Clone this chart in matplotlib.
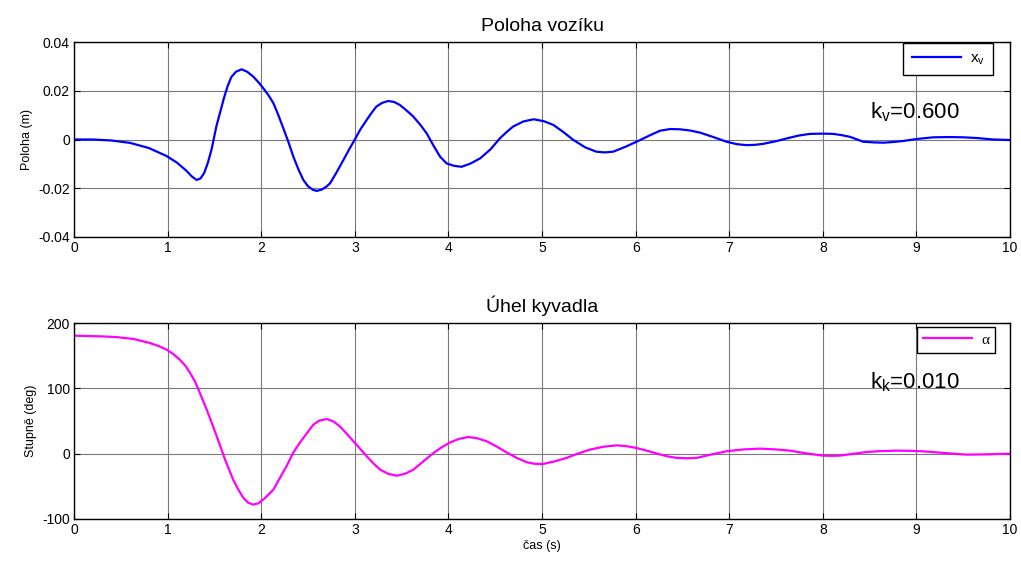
import numpy as np
import matplotlib.pyplot as plt

plt.rcParams['font.family'] = ['Liberation Sans', 'DejaVu Sans']
plt.rcParams['mathtext.fontset'] = 'custom'
plt.rcParams['mathtext.rm'] = 'Liberation Sans'
plt.rcParams['mathtext.it'] = 'Liberation Sans:italic'
plt.rcParams['axes.unicode_minus'] = False

# ── Simulation output: cart position ──────────────────────────────────────────
t_x = [0.0, 0.2, 0.4, 0.6, 0.8, 0.99, 1.1, 1.2, 1.26, 1.31, 1.35, 1.39, 1.43,
       1.47, 1.52, 1.56, 1.6, 1.64, 1.68, 1.73, 1.79, 1.85, 1.915, 1.97, 2.023,
       2.08, 2.13, 2.18, 2.236, 2.29, 2.343, 2.4, 2.45, 2.5, 2.55, 2.593, 2.65,
       2.7, 2.735, 2.8, 2.878, 2.94, 3.0, 3.06, 3.126, 3.18, 3.23, 3.29, 3.356,
       3.42, 3.48, 3.55, 3.625, 3.7, 3.768, 3.84, 3.91, 3.98, 4.06, 4.14, 4.24,
       4.34, 4.45, 4.55, 4.62, 4.69, 4.8, 4.91, 5.02, 5.12, 5.23, 5.335, 5.46,
       5.58, 5.67, 5.76, 5.89, 6.01, 6.14, 6.26, 6.37, 6.47, 6.58, 6.69, 6.83,
       6.97, 7.08, 7.18, 7.27, 7.36, 7.5, 7.62, 7.74, 7.86, 8.0, 8.11, 8.2,
       8.29, 8.43, 8.55, 8.65, 8.76, 8.86, 9.0, 9.18, 9.35, 9.5, 9.65, 9.82,
       10.0]
x_v = [0.0, 0.0, -0.0004, -0.0014, -0.0035, -0.0068, -0.0095, -0.0128, -0.0152,
       -0.0166, -0.016, -0.0138, -0.0095, -0.004, 0.0053, 0.011, 0.0168, 0.0218,
       0.0256, 0.0278, 0.0288, 0.0278, 0.0258, 0.0235, 0.021, 0.018, 0.0149,
       0.0103, 0.0046, -0.001, -0.007, -0.0125, -0.0166, -0.0192, -0.0206,
       -0.0211, -0.0205, -0.0192, -0.018, -0.0138, -0.0084, -0.004, 0.0, 0.0042,
       0.008, 0.011, 0.0135, 0.015, 0.0158, 0.0154, 0.0142, 0.012, 0.0094, 0.006,
       0.0025, -0.0025, -0.007, -0.0098, -0.0108, -0.0112, -0.0098, -0.0077,
       -0.004, 0.0005, 0.003, 0.0053, 0.0074, 0.0083, 0.0075, 0.006, 0.003,
       -0.0002, -0.0032, -0.005, -0.0053, -0.005, -0.003, -0.0009, 0.0015,
       0.0036, 0.0043, 0.0042, 0.0037, 0.0028, 0.001, -0.0009, -0.0019, -0.0023,
       -0.0022, -0.0018, -0.0007, 0.0005, 0.0016, 0.0023, 0.0024, 0.0023, 0.0018,
       0.0011, -0.0009, -0.0012, -0.0013, -0.001, -0.0006, 0.0002, 0.0009, 0.001,
       0.0009, 0.0006, 0.0, -0.0002]

# ── Simulation output: pendulum angle ─────────────────────────────────────────
t_a = [0.0, 0.28, 0.45, 0.634, 0.81, 0.9, 0.99, 1.06, 1.13, 1.19, 1.24, 1.29,
       1.33, 1.37, 1.418, 1.47, 1.525, 1.57, 1.614, 1.66, 1.70, 1.755, 1.81,
       1.86, 1.915, 1.97, 2.02, 2.075, 2.13, 2.2, 2.27, 2.34, 2.41, 2.49, 2.557,
       2.62, 2.70, 2.77, 2.84, 2.91, 2.985, 3.06, 3.127, 3.2, 3.27, 3.36, 3.45,
       3.54, 3.625, 3.73, 3.84, 3.93, 4.02, 4.11, 4.21, 4.31, 4.41, 4.52, 4.62,
       4.73, 4.84, 4.92, 5.01, 5.13, 5.26, 5.38, 5.51, 5.65, 5.80, 5.9, 6.01,
       6.12, 6.23, 6.33, 6.44, 6.55, 6.65, 6.8, 6.97, 7.15, 7.33, 7.5, 7.65,
       7.82, 8.0, 8.09, 8.18, 8.32, 8.47, 8.63, 8.79, 8.93, 9.07, 9.3, 9.54,
       9.75, 10.0]
alpha = [180.6, 179.6, 178.5, 175.6, 169.4, 165.0, 159.2, 152.5, 143.9, 134.5,
         123.5, 111.0, 98.0, 84.0, 67.3, 47.5, 26.5, 8.5, -9.2, -25.5, -39.8,
         -55.0, -67.8, -75.0, -78.0, -76.0, -70.4, -63.0, -55.0, -37.0, -19.4,
         1.0, 16.3, 31.7, 44.4, 50.5, 53.0, 49.5, 41.8, 31.0, 18.9, 7.0, -4.0,
         -15.0, -24.5, -31.0, -33.7, -30.5, -24.5, -12.0, 1.0, 10.0, 17.3, 22.5,
         25.5, 23.5, 18.9, 10.5, 2.0, -6.5, -13.3, -15.5, -15.8, -12.0, -6.6, 0.0,
         6.1, 10.5, 12.7, 11.5, 8.7, 4.5, 0.0, -3.8, -6.6, -7.0, -6.6, -1.5, 3.6,
         6.5, 7.7, 6.5, 4.6, 0.5, -3.0, -3.3, -3.0, -0.3, 2.6, 4.0, 4.6, 4.3, 3.6,
         1.0, -1.5, -1.0, 0.0]

x_ticks = list(range(0, 11))
x_yticks = [-0.04, -0.02, 0, 0.02, 0.04]
x_ylabels = ['-0.04', '-0.02', '0', '0.02', '0.04']
a_yticks = [-100, 0, 100, 200]

k_v = 0.600
k_k = 0.010

fig = plt.figure(figsize=(10.21, 5.64), dpi=100)
ax1 = fig.add_axes([0.0725, 0.5798, 0.9168, 0.3457])
ax2 = fig.add_axes([0.0725, 0.0798, 0.9168, 0.3475])


def style_axes(ax):
    ax.set_xlim(0, 10)
    ax.set_xticks(x_ticks)
    ax.grid(True, color='#7a7a7a', linewidth=0.8)
    ax.set_axisbelow(True)
    ax.tick_params(direction='in', length=4, width=0.8, top=True, right=True,
                   labelsize=10, pad=3)
    for s in ax.spines.values():
        s.set_linewidth(1.0)
        s.set_color('black')


# ── Top: cart position ────────────────────────────────────────────────────────
ax1.plot(t_x, x_v, color='#0000ff', linewidth=1.6, label=r'x$_\mathregular{v}$')
style_axes(ax1)
ax1.set_ylim(-0.04, 0.04)
ax1.set_yticks(x_yticks)
ax1.set_yticklabels(x_ylabels)
ax1.set_title('Poloha vozíku', fontsize=14, pad=8)
ax1.set_ylabel('Poloha (m)', fontsize=9, labelpad=4)
ax1.text(8.5, 0.0113, r'k$_\mathregular{v}$=%.3f' % k_v, fontsize=16,
         va='center', ha='left')
leg1 = ax1.legend(loc='upper right', bbox_to_anchor=(0.982, 0.995),
                  fontsize=11, fancybox=False, edgecolor='black',
                  framealpha=1, borderaxespad=0, handlelength=3.2,
                  borderpad=0.55, handletextpad=0.6)
leg1.get_frame().set_linewidth(1.0)

# ── Bottom: pendulum angle ────────────────────────────────────────────────────
ax2.plot(t_a, alpha, color='#ff00ff', linewidth=1.6, label='α')
style_axes(ax2)
ax2.set_ylim(-100, 200)
ax2.set_yticks(a_yticks)
ax2.set_title('Úhel kyvadla', fontsize=14, pad=8)
ax2.set_ylabel('Stupně (deg)', fontsize=9, labelpad=4)
ax2.set_xlabel('čas (s)', fontsize=9, labelpad=2)
ax2.text(8.5, 109, r'k$_\mathregular{k}$=%.3f' % k_k, fontsize=16,
         va='center', ha='left')
leg2 = ax2.legend(loc='upper right', bbox_to_anchor=(0.984, 0.98),
                  fontsize=11, fancybox=False, edgecolor='black',
                  framealpha=1, borderaxespad=0, handlelength=3.2,
                  borderpad=0.4, handletextpad=0.6)
leg2.get_frame().set_linewidth(1.0)
for txt in leg2.get_texts():
    txt.set_fontfamily('Liberation Serif')

fig.savefig('out.png', dpi=100)
